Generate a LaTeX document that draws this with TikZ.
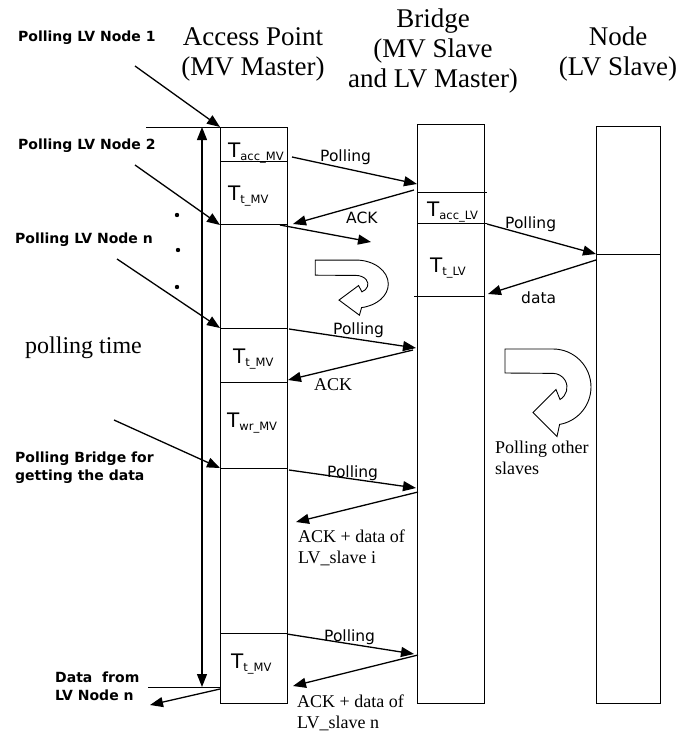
\documentclass[tikz,border=0pt]{standalone}
\usepackage{fontspec}
\setmainfont{Liberation Serif}
\setsansfont{DejaVu Sans}
\usepackage{tikz}
\usetikzlibrary{arrows.meta,positioning,calc}

\newcommand{\tslot}[1]{T\raisebox{-3.5pt}{\fontsize{11.5}{12}\selectfont #1}}

\tikzset{
  uturn/.pic={
    \draw[line width=0.9pt, fill=white] (-48,-38) -- (0,-38) arc[start angle=-90, end angle=80, radius=38]
      -- (4,49.5) -- (-20,25.5) -- (3,2.5) -- (7,12.5) arc[start angle=60, end angle=-90, radius=14]
      -- (-48,-14) -- cycle;
  }
}

\begin{document}
\begin{tikzpicture}[
  x=1pt,y=-1pt,
  lane/.style={draw, line width=1pt, inner sep=0pt, outer sep=0pt},
  head/.style={font=\fontsize{27}{30}\selectfont, align=center, inner sep=0pt, anchor=base},
  slot/.style={font=\sffamily\fontsize{20}{22}\selectfont, inner sep=0pt, anchor=base west},
  msg/.style={font=\sffamily\fontsize{15.5}{18}\selectfont, inner sep=0pt, anchor=base west},
  note/.style={font=\fontsize{18}{20.5}\selectfont, align=left, inner sep=0pt, anchor=base west},
  cue/.style={font=\sffamily\bfseries\fontsize{14}{18}\selectfont, align=left, inner sep=0pt, anchor=base west},
  arr/.style={-{Triangle[length=13pt,width=10pt]}, line width=1.3pt},
  div/.style={line width=1pt}
]
\useasboundingbox (0,0) rectangle (683,736);

% headers
\node[head] (hap) at (253,75) {Access Point\\(MV Master)};
\node[head] (hbr) at (433,87) {Bridge\\(MV Slave\\and LV Master)};
\node[head] (hnd) at (618,75) {Node\\(LV Slave)};

% lanes
\node[lane, minimum width=67pt, minimum height=576pt] (ap) at (253.5,415) {};
\node[lane, minimum width=67pt, minimum height=579pt] (br) at (450.5,413.5) {};
\node[lane, minimum width=64pt, minimum height=577pt] (nd) at (628,414.5) {};

% slots
\draw[div] (220,161) -- (287,161);
\draw[div] (220,224) -- (287,224);
\draw[div] (220,328) -- (287,328);
\draw[div] (220,382) -- (287,382);
\draw[div] (220,468) -- (287,468);
\draw[div] (220,633) -- (287,633);
\draw[div] (418,192) -- (487,192);
\draw[div] (418,223) -- (487,223);
\draw[div] (414,296) -- (484,296);
\draw[div] (596,254) -- (660,254);

\node[slot] (s1) at (228,157) {\tslot{acc\_MV}};
\node[slot] (s2) at (228,200) {\tslot{t\_MV}};
\node[slot] (s3) at (233,363) {\tslot{t\_MV}};
\node[slot] (s4) at (227,427) {\tslot{wr\_MV}};
\node[slot] (s5) at (231,668) {\tslot{t\_MV}};
\node[slot] (s6) at (427,216) {\tslot{acc\_LV}};
\node[slot] (s7) at (430,272) {\tslot{t\_LV}};

% left cues
\node[cue] (c1) at (18,41) {Polling LV Node 1};
\node[cue] (c2) at (18,149) {Polling LV Node 2};
\node[cue] (c3) at (15,243) {Polling LV Node n};
\node[cue] (c4) at (15,480) {Polling Bridge for\\getting the data};
\node[cue] (c5) at (55,700) {Data~~from\\LV Node n};
\node[font=\fontsize{24}{26}\selectfont, inner sep=0pt, anchor=base west] (ptime) at (25,353) {polling time};

\fill (177,215) circle (2.2);
\fill (178,250) circle (2.2);
\fill (177,287) circle (2.2);

% polling time span
\coordinate (t1) at (202,127);
\coordinate (t2) at (202,687);
\draw[line width=1pt] (146,127) -- (220,127);
\draw[line width=1pt] (148,687) -- (220,687);
\draw[arr, {Triangle[length=13pt,width=10pt]}-{Triangle[length=13pt,width=10pt]}] (t1) -- (t2);

% cue arrows
\coordinate (l1s) at (135,66);  \coordinate (l1e) at (220,127);
\coordinate (l2s) at (135,165); \coordinate (l2e) at (220,225);
\coordinate (l3s) at (117,259); \coordinate (l3e) at (220,328);
\coordinate (l4s) at (114,420); \coordinate (l4e) at (220,468);
\coordinate (o1s) at (220,689); \coordinate (o1e) at (150,705);
\draw[arr] (l1s) -- (l1e);
\draw[arr] (l2s) -- (l2e);
\draw[arr] (l3s) -- (l3e);
\draw[arr] (l4s) -- (l4e);
\draw[arr] (o1s) -- (o1e);

% messages
\coordinate (p1s) at (292,157); \coordinate (p1e) at (417,184);
\coordinate (a1s) at (414,190); \coordinate (a1e) at (293,224);
\coordinate (g1s) at (280,225); \coordinate (g1e) at (371,242);
\coordinate (q1s) at (487,224); \coordinate (q1e) at (596,254);
\coordinate (d1s) at (596,260); \coordinate (d1e) at (488,294);
\coordinate (p2s) at (289,329); \coordinate (p2e) at (416,348);
\coordinate (a2s) at (413,350); \coordinate (a2e) at (288,380);
\coordinate (p3s) at (289,470); \coordinate (p3e) at (416,488);
\coordinate (a3s) at (418,492); \coordinate (a3e) at (296,522);
\coordinate (p4s) at (287,634); \coordinate (p4e) at (414,654);
\coordinate (a4s) at (418,655); \coordinate (a4e) at (293,686);
\draw[arr] (p1s) -- (p1e);
\draw[arr] (a1s) -- (a1e);
\draw[arr] (g1s) -- (g1e);
\draw[arr] (q1s) -- (q1e);
\draw[arr] (d1s) -- (d1e);
\draw[arr] (p2s) -- (p2e);
\draw[arr] (a2s) -- (a2e);
\draw[arr] (p3s) -- (p3e);
\draw[arr] (a3s) -- (a3e);
\draw[arr] (p4s) -- (p4e);
\draw[arr] (a4s) -- (a4e);

\node[msg] (m1) at (320,161) {Polling};
\node[msg] (m2) at (346,223) {ACK};
\node[msg] (m3) at (505,228) {Polling};
\node[msg] (m4) at (521,303) {data};
\node[msg] (m5) at (333,334) {Polling};
\node[note] (m6) at (314,390) {ACK};
\node[msg] (m7) at (327,477) {Polling};
\node[note] (m8) at (298,563) {ACK + data of\\LV\_slave i};
\node[msg] (m9) at (324,641) {Polling};
\node[note] (m10) at (297,728) {ACK + data of\\LV\_slave n};
\node[note] (m11) at (495,474) {Polling other\\slaves};

% turn marks
\pic (turnA) [xscale=0.85, yscale=0.63] at (356,284) {uturn};
\pic (turnB) at (553,387) {uturn};
\end{tikzpicture}
\end{document}
